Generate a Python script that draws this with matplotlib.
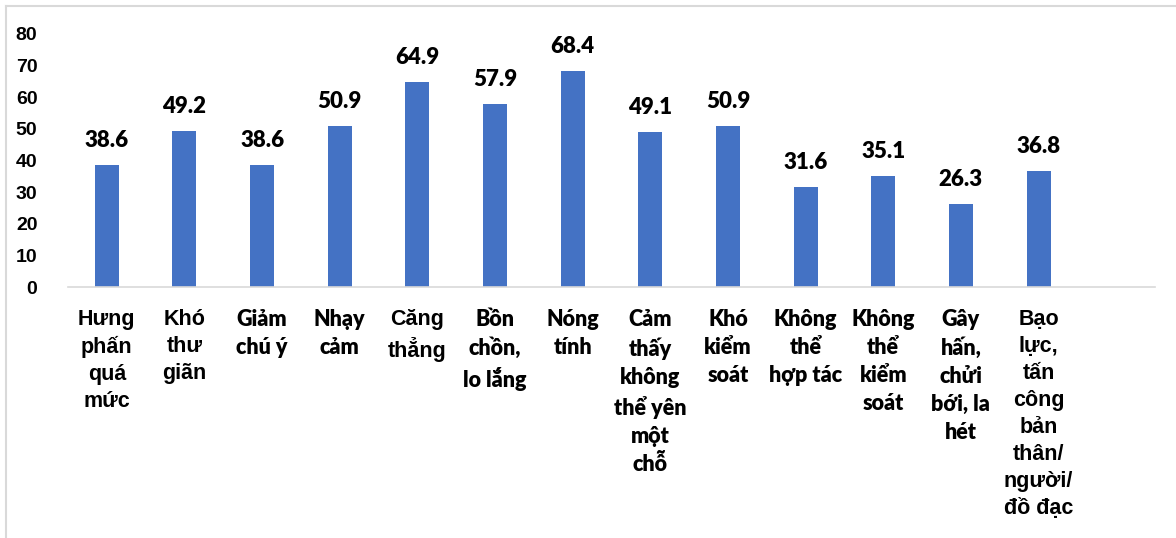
import matplotlib.pyplot as plt
from matplotlib import font_manager as fm
from matplotlib.lines import Line2D

categories = ['Hưng\nphấn\nquá\nmức', 'Khó\nthư\ngiãn', 'Giảm\nchú ý', 'Nhạy\ncảm',
              'Căng\nthẳng', 'Bồn\nchồn,\nlo lắng', 'Nóng\ntính',
              'Cảm\nthấy\nkhông\nthể yên\nmột\nchỗ', 'Khó\nkiểm\nsoát',
              'Không\nthể\nhợp tác', 'Không\nthể\nkiểm\nsoát', 'Gây\nhấn,\nchửi\nbới, la\nhét',
              'Bạo\nlực,\ntấn\ncông\nbản\nthân/\nngười/\nđồ đạc']
values = [38.6, 49.2, 38.6, 50.9, 64.9, 57.9, 68.4, 49.1, 50.9, 31.6, 35.1, 26.3, 36.8]
# labels typed in the "Arial" look, the rest in the "Calibri" look
arial_labels = [0, 1, 4, 12]
yticks = [0, 10, 20, 30, 40, 50, 60, 70, 80]

arial_bold = fm.FontProperties(
    fname=fm.findfont(fm.FontProperties(family='Liberation Sans', weight='bold')))
calibri_like = fm.FontProperties(
    fname=fm.findfont(fm.FontProperties(family='Lato', weight='heavy')))

fig = plt.figure(figsize=(11.76, 5.38), dpi=100)
ax = fig.add_axes([68 / 1176, 251 / 538, 1087 / 1176, 253 / 538])

x = range(len(values))
ax.bar(x, values, width=0.31, color='#4472C4')
ax.set_xlim(-0.5, 13.5)
ax.set_ylim(0, 80)
ax.set_yticks(yticks)
ax.set_yticklabels([str(t) for t in yticks], fontproperties=arial_bold, fontsize=14)
ax.tick_params(axis='y', length=0, pad=22)
ax.set_xticks([])

for s in ['top', 'right', 'left']:
    ax.spines[s].set_visible(False)
ax.spines['bottom'].set_color('#D9D9D9')
ax.spines['bottom'].set_linewidth(1.2)

# value labels above the bars
for i, v in enumerate(values):
    ax.annotate(f'{v}', (i, v), xytext=(0, 18), textcoords='offset pixels',
                ha='center', va='baseline', fontproperties=calibri_like, fontsize=16,
                color='black')

# category labels under the axis
for i, lab in enumerate(categories):
    if i in arial_labels:
        ax.text(i, -6.8, lab, ha='center', va='top', fontproperties=arial_bold,
                fontsize=15.5, linespacing=1.38)
    else:
        ax.text(i, -6.8, lab, ha='center', va='top', fontproperties=calibri_like,
                fontsize=15.5, linespacing=1.42)

# light frame of the chart area (cropped at right and bottom)
fig.add_artist(Line2D([5.5 / 1176, 5.5 / 1176], [0, 1 - 6 / 538], color='#D9D9D9', lw=1.5))
fig.add_artist(Line2D([5.5 / 1176, 1], [1 - 6 / 538, 1 - 6 / 538], color='#D9D9D9', lw=1.5))

fig.savefig('out.png', dpi=100)
